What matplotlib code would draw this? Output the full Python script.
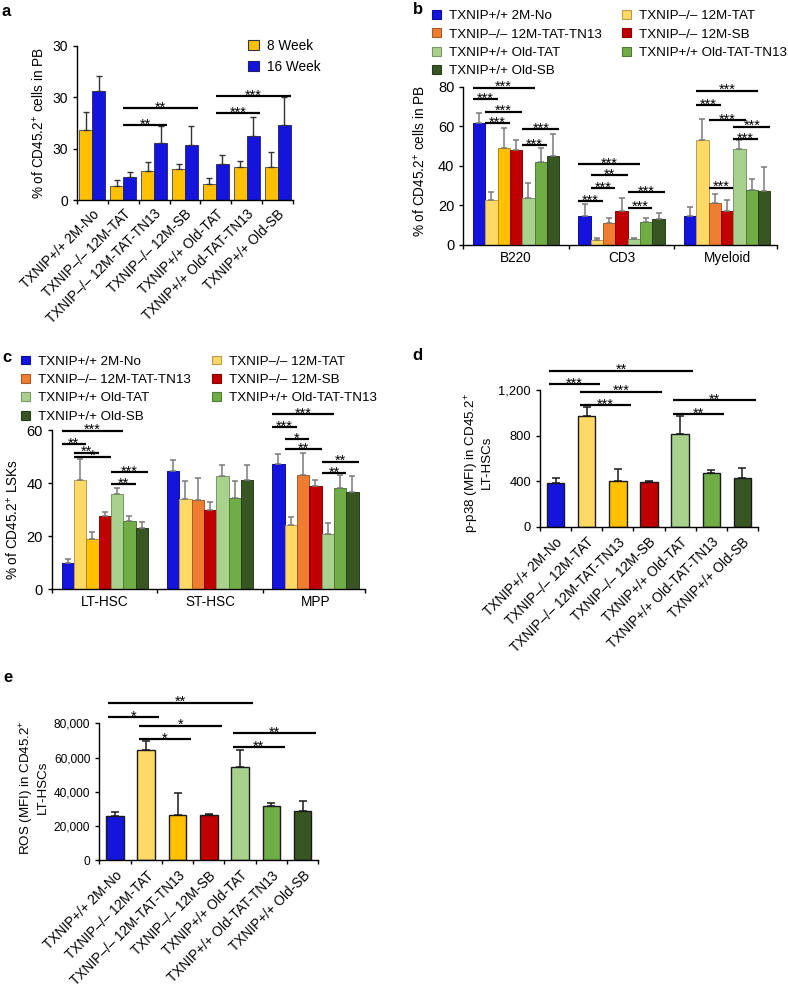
from __future__ import annotations

import matplotlib as mpl

mpl.use("Agg")
import matplotlib.pyplot as plt
import numpy as np
from matplotlib.colors import to_rgb
from matplotlib.patches import Patch

W, H = 788, 990

GROUPS = [
    "TXNIP+/+ 2M-No",
    "TXNIP\u2013/\u2013 12M-TAT",
    "TXNIP\u2013/\u2013 12M-TAT-TN13",
    "TXNIP\u2013/\u2013 12M-SB",
    "TXNIP+/+ Old-TAT",
    "TXNIP+/+ Old-TAT-TN13",
    "TXNIP+/+ Old-SB",
]

BLUE = "#1414DC"
PALE = "#FFD966"
GOLD = "#FFC000"
ORANGE = "#EE7D31"
RED = "#C00000"
LIGHT_GREEN = "#A9D18E"
GREEN = "#70AD47"
DARK_GREEN = "#375623"
GROUP_COLORS = [BLUE, PALE, ORANGE, RED, LIGHT_GREEN, GREEN, DARK_GREEN]
SINGLE_COLORS = [BLUE, PALE, GOLD, RED, LIGHT_GREEN, GREEN, DARK_GREEN]

# panel a: % CD45.2+ in PB, 8 vs 16 weeks
A_WEEK8 = [13.7, 2.8, 5.6, 6.1, 3.1, 6.4, 6.5]
A_WEEK8_ERR = [3.4, 1.1, 1.7, 0.9, 1.2, 1.2, 2.8]
A_WEEK16 = [21.2, 4.5, 11.1, 10.7, 7.0, 12.4, 14.6]
A_WEEK16_ERR = [2.9, 0.9, 3.2, 3.6, 1.7, 3.7, 5.5]
A_YTICKS = [0, 10, 20, 30]
A_YTICKLABELS = ["0", "30", "30", "30"]
A_SIG = [(1, 3, 17.9, "**"), (1, 2, 14.6, "**"), (4, 6, 20.2, "***"), (4, 5, 16.9, "***")]

# panel b: lineage in PB
B_CATS = ["B220", "CD3", "Myeloid"]
B_B220 = [61.5, 22.7, 49.2, 48.0, 23.6, 41.8, 45.1]
B_B220_ERR = [5.0, 3.9, 10.1, 5.1, 7.6, 7.1, 10.8]
B_CD3 = [14.8, 2.5, 11.0, 17.2, 2.9, 11.8, 13.1]
B_CD3_ERR = [5.8, 0.9, 2.8, 6.4, 0.8, 2.0, 2.9]
B_MYELOID = [14.7, 53.1, 21.1, 17.3, 48.4, 27.8, 27.3]
B_MYELOID_ERR = [4.7, 10.6, 4.7, 5.4, 4.7, 5.4, 12.0]
B_SIG = [
    (0, 0, 4, 79.5, "***"), (0, 0, 1, 73.8, "***"), (0, 1, 3, 67.4, "***"),
    (0, 1, 2, 61.5, "***"), (0, 4, 6, 58.5, "***"), (0, 4, 5, 50.5, "***"),
    (1, 0, 4, 40.8, "***"), (1, 1, 3, 35.4, "**"), (1, 1, 2, 28.6, "***"),
    (1, 0, 1, 22.2, "***"), (1, 4, 6, 26.6, "***"), (1, 4, 5, 18.9, "***"),
    (2, 1, 5, 78.0, "***"), (2, 1, 2, 70.7, "***"), (2, 2, 4, 63.2, "***"),
    (2, 4, 6, 59.8, "***"), (2, 4, 5, 53.6, "***"), (2, 2, 3, 29.0, "***"),
]

# panel c: LSK subsets
C_CATS = ["LT-HSC", "ST-HSC", "MPP"]
C_LT = [9.8, 41.2, 18.8, 27.7, 35.9, 25.7, 23.0]
C_LT_ERR = [1.5, 7.8, 2.9, 1.3, 2.4, 2.0, 2.5]
C_ST = [44.6, 34.0, 33.6, 29.9, 42.8, 34.5, 41.2]
C_ST_ERR = [4.1, 6.8, 8.2, 3.1, 3.9, 6.4, 5.6]
C_MPP = [47.1, 24.2, 43.0, 39.0, 20.8, 38.3, 36.5]
C_MPP_ERR = [4.0, 3.1, 8.5, 2.2, 4.1, 4.7, 6.2]
C_SIG = [
    (0, 0, 4, 59.7, "***"), (0, 0, 1, 54.7, "**"), (0, 1, 2, 51.5, "**"),
    (0, 1, 3, 50.0, "*"), (0, 4, 6, 44.1, "***"), (0, 4, 5, 39.5, "**"),
    (2, 0, 4, 66.0, "***"), (2, 0, 1, 61.0, "***"), (2, 1, 2, 56.6, "*"),
    (2, 1, 3, 52.7, "**"), (2, 4, 6, 48.1, "**"), (2, 4, 5, 43.7, "**"),
]

# panel d: p-p38 MFI
D_VALS = [387, 973, 399, 393, 815, 469, 425]
D_ERR = [44, 77, 111, 12, 158, 29, 94]
D_YTICKS = [0, 400, 800, 1200]
D_YTICKLABELS = ["0", "400", "800", "1,200"]
D_SIG = [(0, 4, 1371, "**"), (0, 1, 1254, "***"), (1, 3, 1187, "***"),
         (1, 2, 1067, "***"), (4, 6, 1114, "**"), (4, 5, 988, "**")]

# panel e: ROS MFI
E_VALS = [25700, 64400, 26500, 26300, 54300, 31700, 28800]
E_ERR = [2700, 5500, 13000, 700, 10100, 1600, 5800]
E_YTICKS = [0, 20000, 40000, 60000, 80000]
E_YTICKLABELS = ["0", "20,000", "40,000", "60,000", "80,000"]
E_SIG = [(0, 4, 92000, "**"), (0, 1, 83500, "*"), (1, 3, 78600, "*"),
         (1, 2, 70800, "*"), (4, 6, 74100, "**"), (4, 5, 66000, "**")]


def configure() -> None:
    mpl.rcParams.update(
        {
            "font.family": "sans-serif",
            "font.sans-serif": ["Liberation Sans", "DejaVu Sans"],
            "mathtext.fontset": "custom",
            "mathtext.rm": "Liberation Sans",
            "mathtext.it": "Liberation Sans:italic",
            "mathtext.bf": "Liberation Sans:bold",
            "axes.spines.top": False,
            "axes.spines.right": False,
            "axes.linewidth": 1.0,
            "xtick.major.width": 1.0,
            "ytick.major.width": 1.0,
            "xtick.minor.width": 1.0,
            "ytick.major.size": 3,
            "xtick.minor.size": 3,
        }
    )


def axes_px(fig, left, top, right, bottom):
    return fig.add_axes([left / W, 1 - bottom / H, (right - left) / W, (bottom - top) / H])


def darker(color, f=0.72):
    r, g, b = to_rgb(color)
    return (r * f, g * f, b * f)


def sig_line(ax, x0, x1, y, label, size=10.5):
    ax.plot([x0, x1], [y, y], color="black", lw=1.6, clip_on=False, solid_capstyle="butt")
    ax.annotate(label, xy=((x0 + x1) / 2, y), xytext=(0, -2.5), textcoords="offset points",
                ha="center", va="baseline", fontsize=size, annotation_clip=False)


def panel_a(fig) -> None:
    ax = axes_px(fig, 77, 45.7, 293, 200)
    x = np.arange(len(GROUPS))
    w = 0.42
    zero = np.zeros(len(GROUPS))
    ekw = dict(ecolor="#333333", elinewidth=1.0, capsize=2.2, capthick=1.0)
    ax.bar(x - w / 2, A_WEEK8, w, color=GOLD, edgecolor="#444444", linewidth=0.6,
           yerr=[zero, A_WEEK8_ERR], error_kw=ekw)
    ax.bar(x + w / 2, A_WEEK16, w, color=BLUE, edgecolor="#222266", linewidth=0.6,
           yerr=[zero, A_WEEK16_ERR], error_kw=ekw)
    for i, j, y, lab in A_SIG:
        sig_line(ax, i, j + w, y, lab)
    ax.set_xlim(-0.5, 6.5)
    ax.set_ylim(0, 30)
    ax.set_yticks(A_YTICKS)
    ax.set_yticklabels(A_YTICKLABELS, fontsize=10)
    ax.set_xticks(x)
    ax.set_xticklabels(GROUPS, rotation=45, ha="right", va="top", rotation_mode="anchor", fontsize=9.8)
    ax.tick_params(axis="x", which="major", length=0, pad=5)
    ax.set_xticks(np.arange(-0.5, 7.0, 1.0), minor=True)
    ax.tick_params(axis="x", which="minor", length=3)
    ax.set_ylabel("% of CD45.2$^{+}$ cells in PB", fontsize=9.8, va="center")
    ax.yaxis.set_label_coords(-0.18, 0.5)
    handles = [Patch(facecolor=GOLD, edgecolor="#333333", linewidth=0.8, label="8 Week"),
               Patch(facecolor=BLUE, edgecolor="#222266", linewidth=0.8, label="16 Week")]
    fig.legend(handles=handles, loc="upper left", bbox_to_anchor=(248 / W, 1 - 39 / H),
               frameon=False, fontsize=9.8, borderpad=0, borderaxespad=0, handlelength=0.8,
               handleheight=0.8, handletextpad=0.6, labelspacing=0.5)
    fig.text(2 / W, 1 - 12 / H, "a", fontsize=12, fontweight="bold", ha="left", va="center")


def grouped_panel(fig, rect, values, errors, cats, sig, ylim, yticks, ylabel, label_coords):
    ax = axes_px(fig, *rect)
    bw = 0.117
    zero = np.zeros(len(GROUPS))
    for g, (vals, errs) in enumerate(zip(values, errors)):
        colors = list(GROUP_COLORS)
        if g == 0:
            colors[2] = GOLD
        xs = g + (np.arange(len(GROUPS)) - 3) * bw
        ax.bar(xs, vals, bw, color=colors, edgecolor=[darker(c) for c in colors], linewidth=0.7,
               yerr=[zero, errs], error_kw=dict(ecolor="#7a7a7a", elinewidth=1.1, capsize=2.0, capthick=1.1))
    for g, i, j, y, lab in sig:
        x0 = g + (i - 3) * bw - bw / 2
        x1 = g + (j - 3) * bw + bw / 2
        sig_line(ax, x0, x1, y, lab)
    ax.set_xlim(-0.5, 2.47)
    ax.set_ylim(*ylim)
    ax.set_yticks(yticks)
    ax.tick_params(axis="y", labelsize=10.5)
    ax.set_xticks(range(len(cats)))
    ax.set_xticklabels(cats, fontsize=9.8)
    ax.tick_params(axis="x", which="major", length=0, pad=4)
    ax.set_xticks([-0.5, 0.5, 1.5, 2.47], minor=True)
    ax.tick_params(axis="x", which="minor", length=3)
    ax.set_ylabel(ylabel, fontsize=9.8, va="center")
    ax.yaxis.set_label_coords(*label_coords)
    return ax


def group_legend(fig, x1, x2, ytop):
    handles = [Patch(facecolor=c, edgecolor=darker(c), linewidth=0.8, label=g)
               for c, g in zip(GROUP_COLORS, GROUPS)]
    kw = dict(loc="upper left", frameon=False, fontsize=9.6, borderpad=0, borderaxespad=0,
              handlelength=0.65, handleheight=0.65, handletextpad=0.6, labelspacing=0.47)
    fig.legend(handles=handles[0::2], bbox_to_anchor=(x1 / W, 1 - ytop / H), **kw)
    fig.legend(handles=handles[1::2], bbox_to_anchor=(x2 / W, 1 - ytop / H), **kw)


def single_panel(fig, rect, vals, errs, sig, ylim, yticks, yticklabels, ylabel, label_coords, tick_size):
    ax = axes_px(fig, *rect)
    x = np.arange(len(GROUPS))
    w = 0.56
    ax.bar(x, vals, w, color=SINGLE_COLORS, edgecolor="#1a1a1a", linewidth=1.0,
           yerr=[np.zeros(len(GROUPS)), errs],
           error_kw=dict(ecolor="#1a1a1a", elinewidth=1.1, capsize=2.6, capthick=1.1))
    for i, j, y, lab in sig:
        sig_line(ax, i - 0.22, j + 0.42, y, lab)
    ax.set_xlim(-0.5, 6.5)
    ax.set_ylim(*ylim)
    ax.set_yticks(yticks)
    ax.set_yticklabels(yticklabels, fontsize=tick_size)
    ax.set_xticks(x)
    ax.set_xticklabels(GROUPS, rotation=45, ha="right", va="top", rotation_mode="anchor", fontsize=9.8)
    ax.tick_params(axis="x", which="major", length=0, pad=6)
    ax.set_xticks(np.arange(-0.5, 7.0, 1.0), minor=True)
    ax.tick_params(axis="x", which="minor", length=3)
    ax.set_ylabel(ylabel, fontsize=9.6, va="center", linespacing=1.05)
    ax.yaxis.set_label_coords(*label_coords)
    return ax


def main() -> None:
    configure()
    fig = plt.figure(figsize=(W / 100, H / 100), dpi=100)

    panel_a(fig)

    grouped_panel(fig, (463.3, 86.7, 776.7, 245), [B_B220, B_CD3, B_MYELOID],
                  [B_B220_ERR, B_CD3_ERR, B_MYELOID_ERR], B_CATS, B_SIG, (0, 80),
                  [0, 20, 40, 60, 80], "% of CD45.2$^{+}$ cells in PB", (-0.138, 0.53))
    group_legend(fig, 432, 622, 10)
    fig.text(413 / W, 1 - 10 / H, "b", fontsize=12, fontweight="bold", ha="left", va="center")

    grouped_panel(fig, (52, 430, 365, 589.3), [C_LT, C_ST, C_MPP],
                  [C_LT_ERR, C_ST_ERR, C_MPP_ERR], C_CATS, C_SIG, (0, 60),
                  [0, 20, 40, 60], "% of CD45.2$^{+}$ LSKs", (-0.125, 0.44))
    group_legend(fig, 21, 212, 355.5)
    fig.text(2 / W, 1 - 358 / H, "c", fontsize=12, fontweight="bold", ha="left", va="center")

    single_panel(fig, (540, 390.2, 758, 526.7), D_VALS, D_ERR, D_SIG, (0, 1200), D_YTICKS,
                 D_YTICKLABELS, "p-p38 (MFI) in CD45.2$^{+}$\nLT-HSCs", (-0.285, 0.47), 9.3)
    fig.text(412 / W, 1 - 355 / H, "d", fontsize=12, fontweight="bold", ha="left", va="center")

    single_panel(fig, (99.3, 723.3, 318.3, 860.3), E_VALS, E_ERR, E_SIG, (0, 80000), E_YTICKS,
                 E_YTICKLABELS, "ROS (MFI) in CD45.2$^{+}$\nLT-HSCs", (-0.30, 0.53), 8.6)
    fig.text(3 / W, 1 - 677 / H, "e", fontsize=12, fontweight="bold", ha="left", va="center")

    fig.savefig("out.png", dpi=100)
    plt.close(fig)


if __name__ == "__main__":
    main()
